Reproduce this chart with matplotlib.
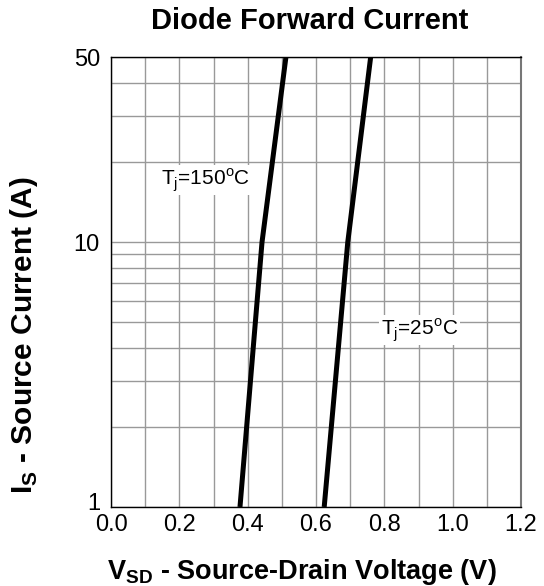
import matplotlib
matplotlib.use('Agg')
import matplotlib.pyplot as plt
from matplotlib.ticker import FixedLocator, MultipleLocator, NullFormatter
from matplotlib.transforms import ScaledTranslation

plt.rcParams['font.family'] = ['Liberation Sans', 'DejaVu Sans']
plt.rcParams['mathtext.fontset'] = 'custom'
plt.rcParams['mathtext.rm'] = 'Liberation Sans'
plt.rcParams['mathtext.bf'] = 'Liberation Sans:bold'

# readings
current = [1, 10, 50]
v_150 = [0.3775, 0.442, 0.512]
v_25 = [0.624, 0.693, 0.760]
xticks = [0.0, 0.2, 0.4, 0.6, 0.8, 1.0, 1.2]
yticks = [1, 10, 50]

fig = plt.figure(figsize=(5.44, 5.86), dpi=100)
ax = fig.add_axes([111/544, 1-507/586, (521-111)/544, (507-57)/586])

ax.plot(v_150, current, color='black', lw=3.6, solid_capstyle='butt', zorder=3)
ax.plot(v_25, current, color='black', lw=3.6, solid_capstyle='butt', zorder=3)

ax.set_yscale('log')
ax.set_xlim(0, 1.2)
ax.set_ylim(1, 50)
ax.set_xticks(xticks)
ax.set_xticklabels(['%.1f' % t for t in xticks])
ax.xaxis.set_minor_locator(MultipleLocator(0.1))
ax.set_yticks(yticks)
ax.set_yticklabels([str(t) for t in yticks])
ax.yaxis.set_minor_locator(FixedLocator([2, 3, 4, 5, 6, 7, 8, 9, 20, 30, 40]))
ax.yaxis.set_minor_formatter(NullFormatter())
ax.tick_params(which='both', length=0, labelsize=17)
ax.tick_params(axis='y', pad=8)
ax.tick_params(axis='x', pad=5)
ax.grid(which='both', color='#999999', lw=1)
ax.set_axisbelow(True)

# the "1" sits a little higher so it clears "0.0"
lab = ax.get_yticklabels()[0]
lab.set_transform(lab.get_transform() + ScaledTranslation(0, 5/100, fig.dpi_scale_trans))

for s in ['left', 'bottom', 'top']:
    ax.spines[s].set_color('black')
    ax.spines[s].set_linewidth(1)
ax.spines['right'].set_color('#777777')
ax.spines['right'].set_linewidth(1.5)

ax.text(0.145, 17.2, r'T$_\mathregular{j}$=150$^\mathregular{o}$C', fontsize=15,
        va='center', ha='left', bbox=dict(fc='white', ec='none', pad=1), zorder=4)
ax.text(0.79, 4.66, r'T$_\mathregular{j}$=25$^\mathregular{o}$C', fontsize=15,
        va='center', ha='left', bbox=dict(fc='white', ec='none', pad=1), zorder=4)

fig.text(310/544, 1-21/586, 'Diode Forward Current', fontsize=21, fontweight='bold',
         ha='center', va='center')
fig.text(24/544, 1-335/586, r'I$_\mathbf{S}$ - Source Current (A)', fontsize=21.5,
         fontweight='bold', rotation=90, ha='center', va='center')
fig.text(302/544, 1-579/586, r'V$_\mathbf{SD}$ - Source-Drain Voltage (V)', fontsize=19.5,
         fontweight='bold', ha='center', va='baseline')

fig.savefig('out.png', dpi=100)
